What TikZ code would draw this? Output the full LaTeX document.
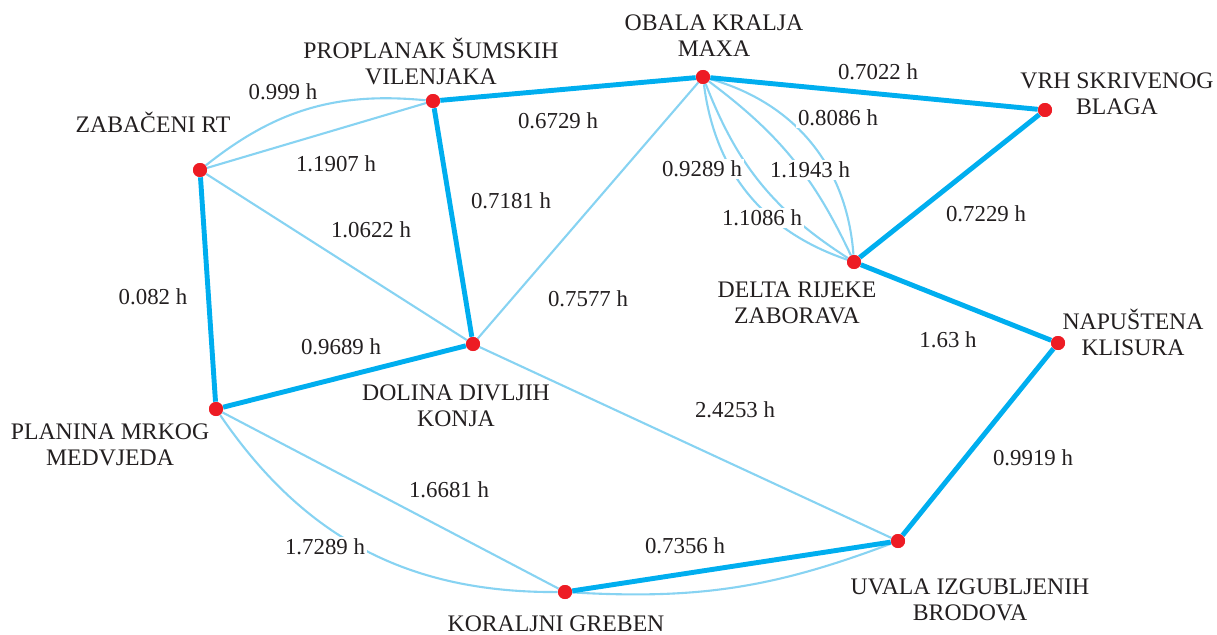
\documentclass[tikz,border=0pt]{standalone}
\usepackage{fontspec}
\setmainfont{Liberation Serif}
\definecolor{stopred}{RGB}{237,28,36}
\definecolor{routeblue}{RGB}{0,174,239}
\definecolor{linkblue}{RGB}{135,211,242}
\definecolor{txtgray}{RGB}{35,31,32}
\tikzstyle{stop}=[circle, fill=stopred, inner sep=0pt, minimum size=0.28cm]
\tikzstyle{place}=[align=center, text=txtgray, inner sep=0pt, font=\fontsize{13.5}{14.8}\selectfont]
\tikzstyle{hrs}=[fill=white, text=txtgray, inner sep=1pt, font=\fontsize{13}{14.8}\selectfont]
\tikzstyle{route}=[draw=routeblue, line width=2.8pt]
\tikzstyle{link}=[draw=linkblue, line width=1.2pt]

\begin{document}
\begin{tikzpicture}[x=0.02cm,y=0.02cm]
\useasboundingbox (0,0) rectangle (1217,-635);

% places
\node[stop] (zab) at (200,-170) {};
\node[stop] (prop) at (433,-101) {};
\node[stop] (obala) at (703,-77) {};
\node[stop] (vrh) at (1045,-110) {};
\node[stop] (delta) at (854,-262) {};
\node[stop] (nap) at (1058,-343) {};
\node[stop] (dol) at (473,-344) {};
\node[stop] (plan) at (216,-409) {};
\node[stop] (kor) at (565,-592) {};
\node[stop] (uvala) at (898,-541) {};

\node[place] (zabn) at (153,-122) {ZABAČENI RT};
\node[place] (propn) at (431,-61) {PROPLANAK ŠUMSKIH\\VILENJAKA};
\node[place] (obalan) at (714,-36) {OBALA KRALJA\\MAXA};
\node[place] (vrhn) at (1117,-94) {VRH SKRIVENOG\\BLAGA};
\node[place] (deltan) at (797,-303) {DELTA RIJEKE\\ZABORAVA};
\node[place] (napn) at (1133,-332) {NAPUŠTENA\\KLISURA};
\node[place] (doln) at (456,-406) {DOLINA DIVLJIH\\KONJA};
\node[place] (plann) at (110,-445) {PLANINA MRKOG\\MEDVJEDA};
\node[place] (korn) at (556,-624) {KORALJNI GREBEN};
\node[place] (uvalan) at (970,-600) {UVALA IZGUBLJENIH\\BRODOVA};

% other links
\draw[link] (zab) to[bend left=22] (prop);
\draw[link] (zab) -- (prop);
\draw[link] (zab) -- (dol);
\draw[link] (dol) -- (obala);
\draw[link] (dol) -- (uvala);
\draw[link] (obala) to[bend left=35] (delta);
\draw[link] (obala) to[bend left=14] (delta);
\draw[link] (obala) to[bend right=18] (delta);
\draw[link] (obala) to[bend right=32] (delta);
\draw[link] (plan) -- (kor);
\draw[link] (plan) to[bend right=28] (kor);
\draw[link] (kor) to[bend right=12] (uvala);

% shortest route
\draw[route] (zab) -- (plan) -- (dol) -- (prop) -- (obala) -- (vrh) -- (delta) -- (nap) -- (uvala) -- (kor);

% times
\node[hrs] (t1) at (283,-92) {0.999 h};
\node[hrs] (t2) at (336,-164) {1.1907 h};
\node[hrs] (t3) at (558,-121) {0.6729 h};
\node[hrs] (t4) at (878,-72) {0.7022 h};
\node[hrs] (t5) at (838,-118) {0.8086 h};
\node[hrs] (t6) at (702,-169) {0.9289 h};
\node[hrs] (t7) at (810,-170) {1.1943 h};
\node[hrs] (t8) at (762,-218) {1.1086 h};
\node[hrs] (t9) at (986,-214) {0.7229 h};
\node[hrs] (t10) at (511,-201) {0.7181 h};
\node[hrs] (t11) at (371,-230) {1.0622 h};
\node[hrs] (t12) at (588,-299) {0.7577 h};
\node[hrs] (t13) at (153,-297) {0.082 h};
\node[hrs] (t14) at (341,-347) {0.9689 h};
\node[hrs] (t15) at (948,-340) {1.63 h};
\node[hrs] (t16) at (735,-410) {2.4253 h};
\node[hrs] (t17) at (1033,-458) {0.9919 h};
\node[hrs] (t18) at (449,-490) {1.6681 h};
\node[hrs] (t19) at (325,-547) {1.7289 h};
\node[hrs] (t20) at (685,-546) {0.7356 h};

% dots on top
\foreach \p in {zab,prop,obala,vrh,delta,nap,dol,plan,kor,uvala}
  \fill[stopred] (\p) circle (7);
\end{tikzpicture}
\end{document}
